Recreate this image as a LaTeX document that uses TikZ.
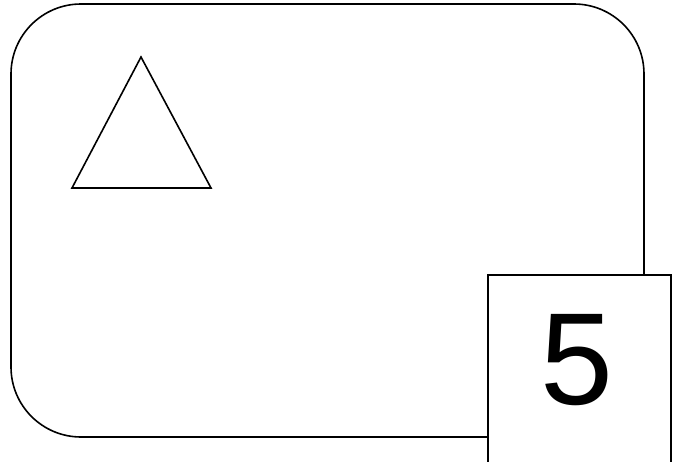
\documentclass[tikz,border=0pt]{standalone}
\usepackage{fontspec}
\setmainfont{Liberation Sans}
\begin{document}
\begin{tikzpicture}[x=1pt,y=-1pt,
  shapeline/.style={draw=black,line width=1.6pt},
  bigdigit/.style={font=\fontsize{131}{131}\selectfont,inner sep=0pt,anchor=center}]
\useasboundingbox (0,0) rectangle (678,461);
\clip (0,0) rectangle (678,461);
\fill[white] (0,0) rectangle (678,461);
\node[shapeline,rounded corners=70pt,minimum width=633pt,minimum height=433pt,inner sep=0pt] (card) at (327.5,220.5) {};
\draw[shapeline,line join=miter] (141,57) coordinate (apex) -- (72,188) coordinate (bl) -- (211,188) coordinate (br) -- cycle;
\node[shapeline,fill=white,minimum width=183pt,minimum height=200pt,inner sep=0pt,anchor=north west] (badge) at (487,274) {};
\node[bigdigit] (num) at (577,360) {5};
\end{tikzpicture}
\end{document}
